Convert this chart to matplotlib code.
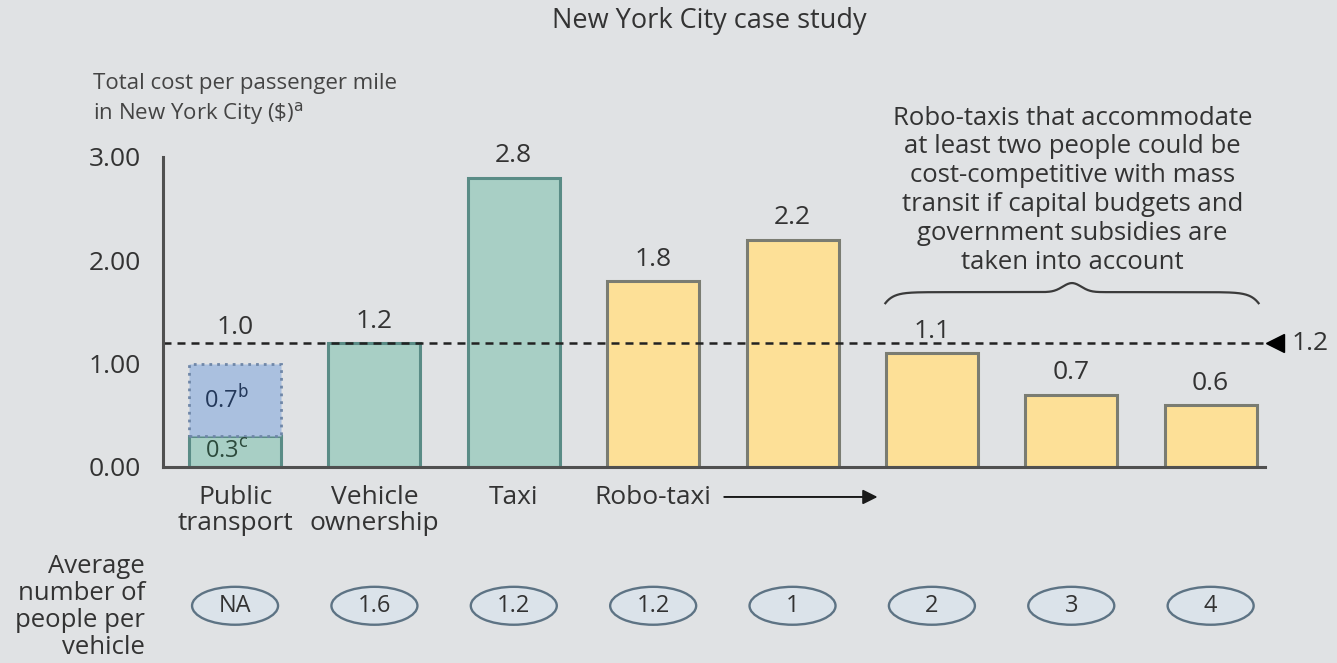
import matplotlib.pyplot as plt
import numpy as np
from matplotlib.patches import Ellipse

_BACKGROUND = '#e0e2e4'
_TEAL = '#a8cfc5'
_TEAL_EDGE = '#5a8c86'
_BLUE = '#aac0df'
_BLUE_EDGE = '#6f87a8'
_YELLOW = '#fde097'
_YELLOW_EDGE = '#7a7c72'
_TEXT = '#333333'

_VALUE_SIZE = 19
_LABEL_SIZE = 19

plt.rcParams['font.family'] = ['Open Sans', 'DejaVu Sans']

categories = ['Public\ntransport', 'Vehicle\nownership', 'Taxi', 'Robo-taxi', '', '', '', '']
costs = [1.0, 1.2, 2.8, 1.8, 2.2, 1.1, 0.7, 0.6]
cost_labels = ['1.0', '1.2', '2.8', '1.8', '2.2', '1.1', '0.7', '0.6']
public_split = [0.3, 0.7]           # fare-covered part, subsidised part
public_split_labels = ['0.3$^{\\mathsf{c}}$', '0.7$^{\\mathsf{b}}$']
people_per_vehicle = ['NA', '1.6', '1.2', '1.2', '1', '2', '3', '4']
kinds = ['public', 'own', 'taxi', 'robo', 'robo', 'robo', 'robo', 'robo']
benchmark = 1.2

fig = plt.figure(figsize=(13.37, 6.63), dpi=100, facecolor=_BACKGROUND)
ax = fig.add_axes([163 / 1337, 1 - 467 / 663, 1102 / 1337, 310 / 663])
ax.set_facecolor(_BACKGROUND)

width = 0.66

for i, (val, kind) in enumerate(zip(costs, kinds)):
    if kind == 'public':
        ax.bar(i, public_split[0], width, color=_TEAL, edgecolor=_TEAL_EDGE, linewidth=2.2)
        ax.bar(i, public_split[1], width, bottom=public_split[0], color=_BLUE,
               edgecolor=_BLUE_EDGE, linewidth=2, linestyle=(0, (1, 1.8)))
        ax.text(i - 0.06, public_split[0] / 2, public_split_labels[0], ha='center',
                va='center', fontsize=17, color='#2c4a3c')
        ax.text(i - 0.06, public_split[0] + public_split[1] / 2, public_split_labels[1],
                ha='center', va='center', fontsize=17, color='#23385a')
        # label sits above the benchmark line so the dashes don't cross it
        label_y = max(val, benchmark) + 0.15
    else:
        face, edge = (_YELLOW, _YELLOW_EDGE) if kind == 'robo' else (_TEAL, _TEAL_EDGE)
        ax.bar(i, val, width, color=face, edgecolor=edge, linewidth=2.2)
        label_y = val + 0.21
    ax.text(i, label_y, cost_labels[i], ha='center', va='center',
            fontsize=_VALUE_SIZE, color=_TEXT)

# dashed benchmark line with a marker and value at the right end
ax.plot([-0.517, 7.39], [benchmark, benchmark], color='#222222', linewidth=1.8,
        linestyle=(0, (3.2, 2.4)), clip_on=False)
ax.plot(7.46, benchmark, marker='<', markersize=13, color='black', clip_on=False)
ax.text(7.58, benchmark, '1.2', ha='left', va='center', fontsize=_VALUE_SIZE, color=_TEXT)

ax.set_xlim(-0.517, 7.39)
ax.set_ylim(0, 3.0)
ax.set_yticks([0, 1, 2, 3])
ax.set_yticklabels(['0.00', '1.00', '2.00', '3.00'], fontsize=_VALUE_SIZE, color=_TEXT)
ax.tick_params(axis='y', length=0, pad=16)
ax.set_xticks([])
for side in ('top', 'right'):
    ax.spines[side].set_visible(False)
for side in ('left', 'bottom'):
    ax.spines[side].set_color('#505050')
    ax.spines[side].set_linewidth(2.2)

# category names under the axis
for i, name in enumerate(categories):
    if name:
        ax.text(i, -0.17, name, ha='center', va='top', fontsize=_LABEL_SIZE,
                color=_TEXT, linespacing=1.08)
ax.annotate('', xy=(4.63, -0.29), xytext=(3.49, -0.29),
            arrowprops=dict(arrowstyle='-|>', color='#1a1a1a', lw=1.4,
                            mutation_scale=22), annotation_clip=False)

# people-per-vehicle ovals
for i, label in enumerate(people_per_vehicle):
    ax.add_patch(Ellipse((i, -1.343), 0.617, 0.367, facecolor='#dbe3ea',
                         edgecolor='#5d7384', linewidth=1.7, clip_on=False))
    ax.text(i, -1.343, label, ha='center', va='center', fontsize=17, color=_TEXT)
fig.text(145 / 1337, 1 - 607 / 663, 'Average\nnumber of\npeople per\nvehicle',
         ha='right', va='center', fontsize=18.5, color=_TEXT, linespacing=1.12)

# curly brace over the shared robo-taxis
def _brace(x0, x1, y, h):
    t = np.linspace(0, 1, 600)
    xs = x0 + (x1 - x0) * t
    half = np.where(t < 0.5, t, 1 - t) * 2
    ys = y + h * (0.55 * (1 - np.exp(-22 * half))
                  + 0.45 * np.exp(-((t - 0.5) / 0.035) ** 2))
    return xs, ys

bx, by = _brace(4.666, 7.344, 1.585, 0.195)
ax.plot(bx, by, color='#3a3a3a', linewidth=1.6, clip_on=False)

ax.text(6.01, 2.68, 'Robo-taxis that accommodate\nat least two people could be\n'
        'cost-competitive with mass\ntransit if capital budgets and\n'
        'government subsidies are\ntaken into account',
        ha='center', va='center', fontsize=18.5, color=_TEXT, linespacing=1.2)

fig.text(709 / 1337, 1 - 21 / 663, 'New York City case study', ha='center',
         va='center', fontsize=19.5, color=_TEXT)
fig.text(93 / 1337, 1 - 100 / 663,
         'Total cost per passenger mile\nin New York City (\\$)$^{\\mathsf{a}}$',
         ha='left', va='center', fontsize=16, color='#444444', linespacing=1.3)

fig.savefig('out.png', dpi=100, facecolor=_BACKGROUND)
